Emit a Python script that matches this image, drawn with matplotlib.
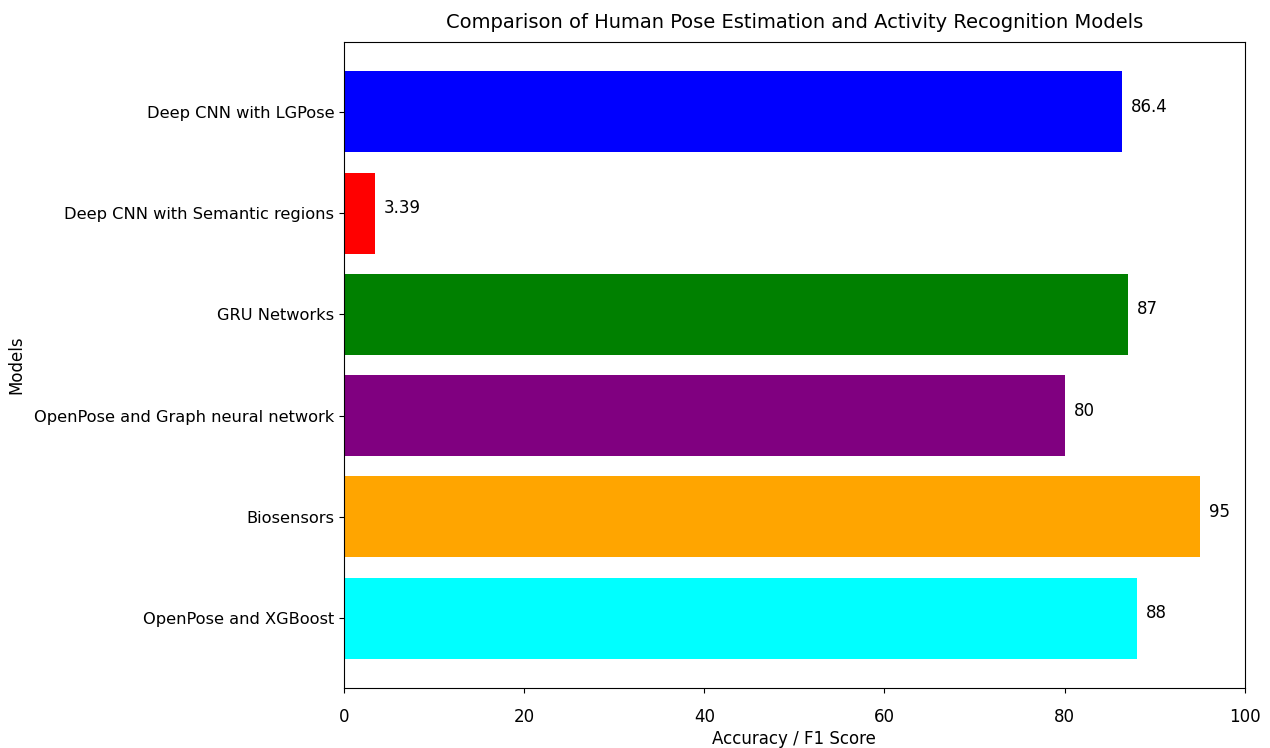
import matplotlib
matplotlib.use('Agg')
import matplotlib.pyplot as plt

models = ['OpenPose and XGBoost', 'Biosensors', 'OpenPose and Graph neural network',
          'GRU Networks', 'Deep CNN with Semantic regions', 'Deep CNN with LGPose']
scores = [88, 95, 80, 87, 3.39, 86.4]
colors = ['cyan', 'orange', 'purple', 'green', 'red', 'blue']

fig = plt.figure(figsize=(12.7, 7.48), dpi=100)
ax = fig.add_axes([0.271, 0.080, 0.709, 0.864])
ax.barh(models, scores, color=colors)
for i, v in enumerate(scores):
    ax.text(v + 1, i, str(v), fontsize=12)

ax.set_xlim(0, 100)
ax.set_xlabel('Accuracy / F1 Score', fontsize=12, labelpad=3)
ax.set_ylabel('Models', fontsize=12, labelpad=6)
ax.set_title('Comparison of Human Pose Estimation and Activity Recognition Models',
             fontsize=14, pad=10)
ax.tick_params(axis='x', labelsize=12, pad=11)
ax.tick_params(axis='y', labelsize=11.7)
fig.savefig('out.png', dpi=100)
